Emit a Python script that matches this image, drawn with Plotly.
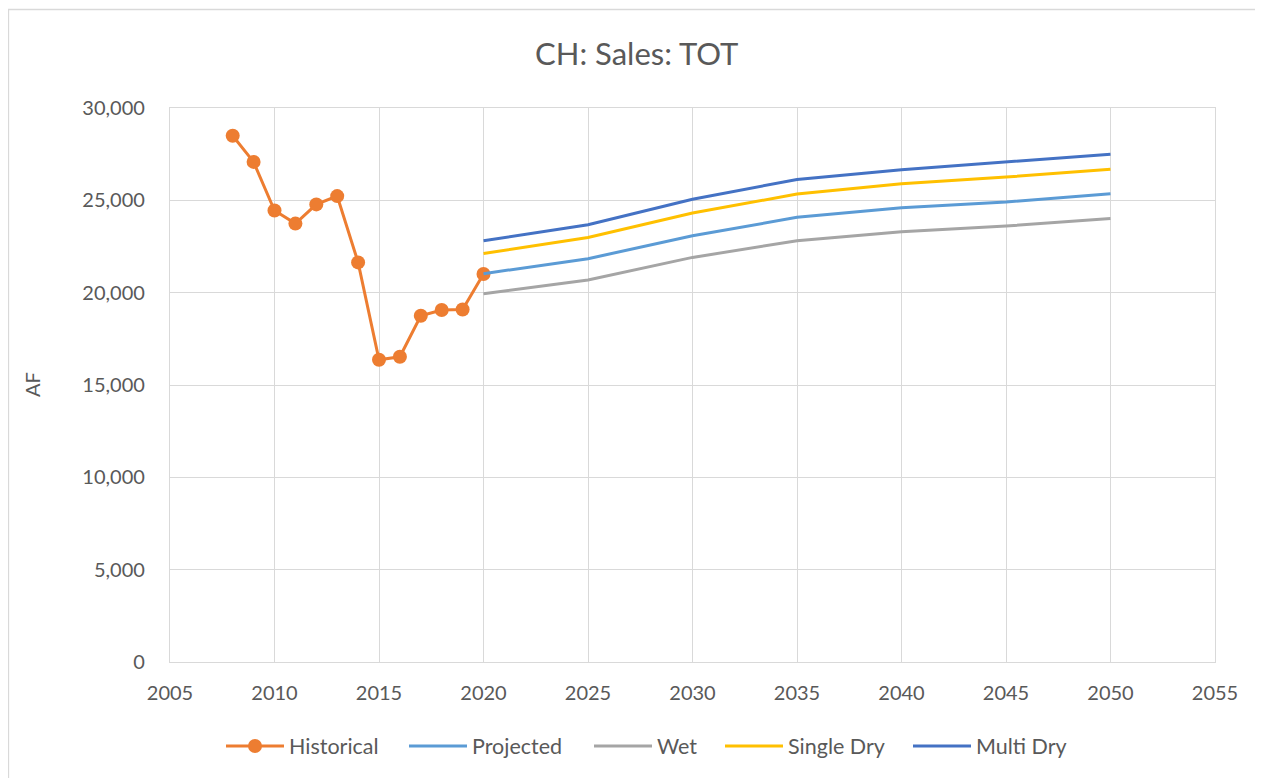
import plotly.graph_objects as go

hist_years = [2008, 2009, 2010, 2011, 2012, 2013, 2014, 2015, 2016, 2017, 2018, 2019, 2020]
hist_vals = [28500, 27080, 24450, 23740, 24780, 25230, 21640, 16370, 16530, 18750, 19060, 19090, 21010]

proj_years = [2020, 2025, 2030, 2035, 2040, 2045, 2050]
projected = [21030, 21840, 23080, 24080, 24600, 24910, 25360]
wet = [19940, 20690, 21910, 22810, 23300, 23610, 24020]
single_dry = [22120, 22990, 24310, 25340, 25900, 26260, 26680]
multi_dry = [22810, 23680, 25060, 26130, 26660, 27070, 27500]

x_ticks = list(range(2005, 2056, 5))
y_ticks = list(range(0, 30001, 5000))

colors = {
    "Historical": "#ED7D31",
    "Projected": "#5B9BD5",
    "Wet": "#A5A5A5",
    "Single Dry": "#FFC000",
    "Multi Dry": "#4472C4",
}

FONT = "Lato"
GREY = "#595959"

# page is offset by the default 8px body margin; work in figure coordinates
OFF = 8
W, H = 1255, 770
L, T = 170 - OFF, 108 - OFF
R = W - (1215 - OFF)
B = H - (662 - OFF)
pw, ph = W - L - R, H - T - B

def px(xabs):
    return (xabs - OFF - L) / pw

def py(yabs):
    return ((H - B) - (yabs - OFF)) / ph

legend_names = ["legend", "legend2", "legend3", "legend4", "legend5"]
legend_starts = [229, 412, 597, 728, 916]

fig = go.Figure()
fig.add_trace(go.Scatter(
    x=hist_years, y=hist_vals, name="Historical", mode="lines+markers",
    line=dict(color=colors["Historical"], width=3),
    marker=dict(color=colors["Historical"], size=14),
    legend=legend_names[0],
))
for i, (name, vals) in enumerate([("Projected", projected), ("Wet", wet),
                                  ("Single Dry", single_dry), ("Multi Dry", multi_dry)]):
    fig.add_trace(go.Scatter(
        x=proj_years, y=vals, name=name, mode="lines",
        line=dict(color=colors[name], width=3),
        legend=legend_names[i + 1],
    ))

fig.update_layout(
    width=W, height=H,
    margin=dict(l=L, r=R, t=T, b=B, autoexpand=False),
    paper_bgcolor="white", plot_bgcolor="white",
    font=dict(family=FONT, color=GREY, size=20),
    title=dict(text="CH: Sales: TOT", x=(636.7 - OFF) / W, xref="container", xanchor="center",
               y=1 - (54 - OFF) / H, yref="container", yanchor="middle",
               font=dict(family=FONT, size=31, color=GREY)),
    xaxis=dict(range=[2005, 2055], tickvals=x_ticks, showgrid=True,
               gridcolor="#D9D9D9", gridwidth=1.3, zeroline=False,
               showline=True, linecolor="#D9D9D9", linewidth=1.3, mirror=True,
               ticks="", ticklabelstandoff=13, tickfont=dict(size=20, color=GREY)),
    yaxis=dict(range=[0, 30000], tickvals=y_ticks, tickformat=",d", showgrid=True,
               gridcolor="#D9D9D9", gridwidth=1.3, zeroline=False,
               showline=True, linecolor="#D9D9D9", linewidth=1.3, mirror=True,
               ticks="", ticklabelstandoff=20, tickfont=dict(size=20, color=GREY)),
    showlegend=True,
)

for lname, start in zip(legend_names, legend_starts):
    fig.update_layout({lname: dict(
        orientation="h", x=px(start - 8), xanchor="left",
        y=py(746), yanchor="middle",
        font=dict(size=21.5, color=GREY, family=FONT),
        itemwidth=58, bgcolor="rgba(0,0,0,0)",
    )})

fig.add_annotation(text="AF", xref="paper", yref="paper",
                   x=px(32), y=py(385), showarrow=False,
                   textangle=-90, font=dict(size=20, color=GREY, family=FONT),
                   xanchor="center", yanchor="middle")

# outer chart border
fig.add_shape(type="rect", xref="paper", yref="paper",
              x0=px(8.5), x1=px(1262),
              y0=py(800), y1=py(9.5),
              line=dict(color="#D9D9D9", width=1.3), fillcolor="rgba(0,0,0,0)",
              layer="below")

fig.write_html("out.html")
